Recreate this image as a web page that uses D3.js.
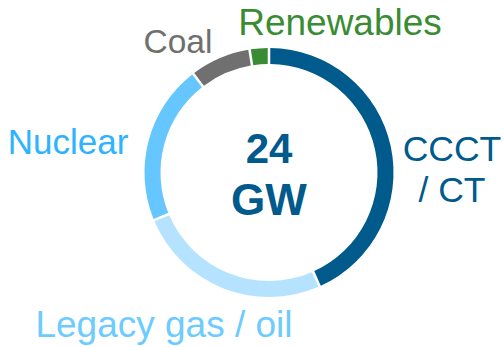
<!DOCTYPE html>
<html>
<head>
<meta charset="utf-8">
<script src="https://cdn.jsdelivr.net/npm/d3@7"></script>
<style>
  html, body { margin: 0; padding: 0; background: #fff; }
  svg { display: block; }
  text { font-family: "Liberation Sans", Arial, sans-serif; }
</style>
</head>
<body>
<svg id="chart" width="504" height="347"></svg>
<script>
// Capacity mix (GW), clockwise from 12 o'clock
const categories = ["CCCT / CT", "Legacy gas / oil", "Nuclear", "Coal", "Renewables"];
const capacityGW = [10.4, 6.1, 5.0, 1.9, 0.6];
const ringColors = ["#005A8C", "#B5E3FF", "#66C6FF", "#707070", "#3A8C34"];
const labelColors = ["#005A8C", "#6DCBFF", "#2DB3FF", "#6F6F6F", "#3A8C34"];
const totalLabel = ["24", "GW"];

// Label placement (layout only)
const labelLayout = {
  "CCCT / CT":        { x: 452, y: 161, size: 35.5, lines: ["CCCT", "/ CT"] },
  "Legacy gas / oil": { x: 164, y: 337, size: 37, lines: ["Legacy gas / oil"] },
  "Nuclear":          { x: 68,  y: 154, size: 35, lines: ["Nuclear"] },
  "Coal":             { x: 178, y: 53,  size: 33.5, lines: ["Coal"] },
  "Renewables":       { x: 340, y: 35,  size: 37, lines: ["Renewables"] }
};

const svg = d3.select("#chart");
const cx = 269, cy = 172.5;
const outerR = 124.5, innerR = 108.5;

const data = categories.map((c, i) => ({ name: c, value: capacityGW[i], color: ringColors[i], label: labelColors[i] }));

const pie = d3.pie().value(d => d.value).sort(null).startAngle(0).endAngle(2 * Math.PI);
const arc = d3.arc().innerRadius(innerR).outerRadius(outerR)
  .padAngle(0.022).padRadius((innerR + outerR) / 2);

const g = svg.append("g").attr("transform", `translate(${cx},${cy})`);
g.selectAll("path")
  .data(pie(data))
  .join("path")
  .attr("d", arc)
  .attr("fill", d => d.data.color);

// Category labels
data.forEach(d => {
  const L = labelLayout[d.name];
  const t = svg.append("text")
    .attr("x", L.x).attr("y", L.y)
    .attr("text-anchor", "middle")
    .attr("font-size", L.size)
    .attr("fill", d.label);
  L.lines.forEach((ln, i) => {
    t.append("tspan").attr("x", L.x).attr("dy", i === 0 ? 0 : 41).text(ln);
  });
});

// Total in the middle
const total = d3.sum(capacityGW);
svg.append("text")
  .attr("x", cx).attr("y", 163)
  .attr("text-anchor", "middle")
  .attr("font-size", 42).attr("font-weight", "bold")
  .attr("fill", "#005A8C")
  .text(d3.format(".0f")(total));
svg.append("text")
  .attr("x", cx).attr("y", 215)
  .attr("text-anchor", "middle")
  .attr("font-size", 44).attr("font-weight", "bold")
  .attr("fill", "#005A8C")
  .text(totalLabel[1]);
</script>
</body>
</html>
